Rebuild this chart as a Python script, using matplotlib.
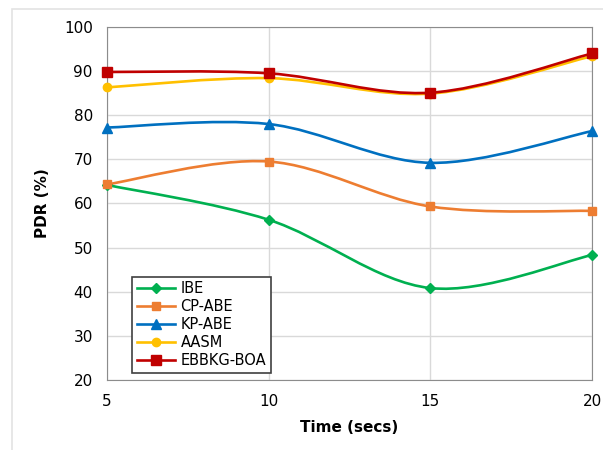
import numpy as np
import matplotlib
matplotlib.use('Agg')
import matplotlib.pyplot as plt
from matplotlib.path import Path
from matplotlib.patches import PathPatch, Rectangle
from matplotlib.lines import Line2D

# data
times = [5, 10, 15, 20]
ibe = [64.2, 56.3, 40.8, 48.3]
cpabe = [64.3, 69.5, 59.3, 58.3]
kpabe = [77.2, 78.0, 69.2, 76.4]
aasm = [86.3, 88.4, 84.9, 93.4]
ebbkg = [89.8, 89.5, 85.1, 94.0]

series = [
        ('IBE', ibe, '#00B050', 'D', 5),
        ('CP-ABE', cpabe, '#ED7D31', 's', 6),
        ('KP-ABE', kpabe, '#0070C0', '^', 7),
        ('AASM', aasm, '#FFC000', 'o', 6),
        ('EBBKG-BOA', ebbkg, '#C00000', 's', 7.5),
]

#excel style smoothed line, drawn as cubic bezier segments
def smoothpath(x, y):
        pts = np.column_stack([x, y]).astype(float)
        n = len(pts)
        verts = [pts[0]]
        codes = [Path.MOVETO]
        for i in range(n - 1):
                p0 = pts[max(i - 1, 0)]
                p1 = pts[i]
                p2 = pts[i + 1]
                p3 = pts[min(i + 2, n - 1)]
                c1 = p1 + (p2 - p0) / 6.0
                c2 = p2 - (p3 - p1) / 6.0
                verts += [c1, c2, p2]
                codes += [Path.CURVE4] * 3
        return Path(verts, codes)

fig = plt.figure(figsize=(6.03, 4.5), dpi=100)

#faint outer chart border
fig.patches.append(Rectangle((0.02, -0.1), 1.1, 1.08, transform=fig.transFigure,
                             facecolor='none', edgecolor='#E3E3E3', lw=1.2))

ax = fig.add_axes([0.177, 0.156, 0.805, 0.784])

handles = []
for name, vals, color, marker, ms in series:
        patch = PathPatch(smoothpath(times, vals), facecolor='none', edgecolor=color, lw=1.9, zorder=3)
        ax.add_patch(patch)
        ax.plot(times, vals, linestyle='none', marker=marker, color=color, markersize=ms, zorder=4, clip_on=False)
        handles.append(Line2D([0], [0], color=color, lw=1.9, marker=marker, markersize=ms))

ax.set_xlim(5, 20)
ax.set_ylim(20, 100)
ax.set_xticks(times)
ax.set_yticks(range(20, 101, 10))
ax.grid(True, color='#D9D9D9', lw=1)
ax.set_axisbelow(True)
for sp in ax.spines.values():
        sp.set_color('#8C8C8C')
ax.tick_params(length=0, labelsize=11, pad=10)
ax.set_xlabel('Time (secs)', fontsize=11, fontweight='bold', labelpad=8)
ax.set_ylabel('PDR (%)', fontsize=11, fontweight='bold', labelpad=10)

leg = ax.legend(handles, [s[0] for s in series], loc='lower left', bbox_to_anchor=(0.038, 0.0),
                fontsize=10.5, fancybox=False, framealpha=1, edgecolor='#404040',
                handlelength=2.6, borderpad=0.3, labelspacing=0.2, handletextpad=0.4)
leg.get_frame().set_linewidth(1.2)

fig.savefig('out.png', dpi=100)
